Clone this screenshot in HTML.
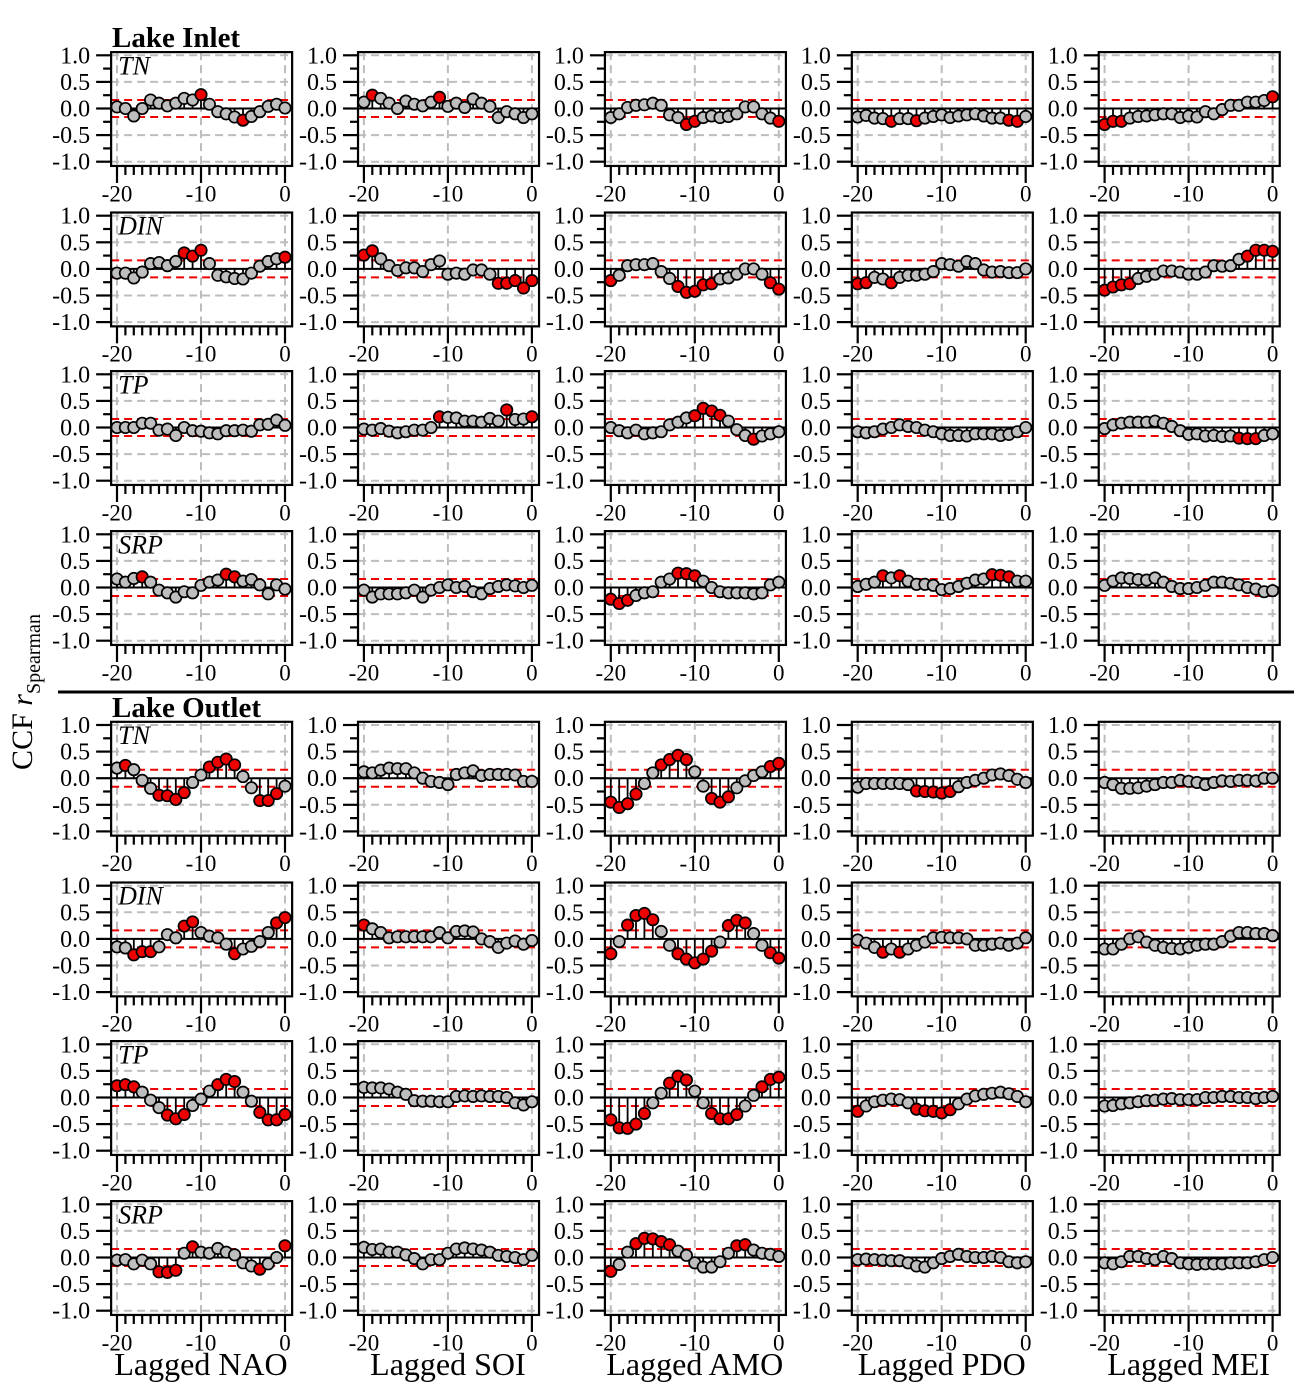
<!DOCTYPE html>
<html><head><meta charset="utf-8"><style>
html,body{margin:0;padding:0;background:#fff;}
svg{display:block;}
text{font-family:"Liberation Serif",serif;}
</style></head><body>
<svg id="chart" width="1300" height="1400" viewBox="0 0 1300 1400" xmlns="http://www.w3.org/2000/svg" font-family="Liberation Serif, serif">
<rect x="0" y="0" width="1300" height="1400" fill="#fff"/>
<text x="112" y="47" font-size="29" font-weight="bold" font-family="Liberation Serif, serif">Lake Inlet</text>
<text x="112" y="717" font-size="29" font-weight="bold" font-family="Liberation Serif, serif">Lake Outlet</text>
<line x1="58" y1="692" x2="1294" y2="692" stroke="#000" stroke-width="3"/>
<text transform="translate(32,692) rotate(-90)" text-anchor="middle" font-size="30" font-family="Liberation Serif, serif">CCF <tspan font-style="italic">r</tspan><tspan font-size="20" dy="8">Spearman</tspan></text>
<g id="panels"></g>
</svg>
<script>
const lags = [-20,-19,-18,-17,-16,-15,-14,-13,-12,-11,-10,-9,-8,-7,-6,-5,-4,-3,-2,-1,0];
const indices = ["NAO","SOI","AMO","PDO","MEI"];
const variables = ["TN","DIN","TP","SRP"];
const yTicks = [1.0,0.5,0.0,-0.5,-1.0];
const yTickLabels = ["1.0","0.5","0.0","-0.5","-1.0"];
const xTicks = [-20,-10,0];
const sigLevel = 0.16;

const inTN_NAO=[0.03,0,-0.14,0,0.16,0.1,0.05,0.1,0.19,0.16,0.26,0.08,-0.06,-0.1,-0.16,-0.22,-0.15,-0.06,0.04,0.08,0.01];
const inTN_SOI=[0.12,0.25,0.19,0.1,0,0.14,0.08,0.05,0.12,0.21,0.04,0.1,0.02,0.18,0.1,0.04,-0.17,-0.06,-0.1,-0.17,-0.1];
const inTN_AMO=[-0.17,-0.1,0.02,0.06,0.07,0.1,0.06,-0.12,-0.17,-0.3,-0.24,-0.17,-0.14,-0.17,-0.15,-0.1,0.03,0.03,-0.1,-0.18,-0.24];
const inTN_PDO=[-0.16,-0.13,-0.18,-0.19,-0.24,-0.19,-0.19,-0.23,-0.18,-0.15,-0.12,-0.17,-0.14,-0.12,-0.1,-0.14,-0.18,-0.18,-0.22,-0.24,-0.15];
const inTN_MEI=[-0.3,-0.24,-0.24,-0.18,-0.15,-0.14,-0.12,-0.1,-0.1,-0.17,-0.14,-0.16,-0.06,-0.1,-0.02,0.06,0.06,0.12,0.12,0.15,0.22];
const inDIN_NAO=[-0.08,-0.08,-0.17,-0.06,0.1,0.12,0.06,0.14,0.3,0.24,0.35,0.1,-0.12,-0.15,-0.18,-0.19,-0.08,0.05,0.14,0.19,0.22];
const inDIN_SOI=[0.26,0.34,0.19,0.06,-0.03,0.02,0.02,-0.05,0.08,0.15,-0.1,-0.08,-0.1,-0.02,-0.02,-0.1,-0.27,-0.27,-0.22,-0.36,-0.22];
const inDIN_AMO=[-0.22,-0.12,0.06,0.08,0.08,0.1,-0.05,-0.18,-0.33,-0.44,-0.42,-0.3,-0.28,-0.19,-0.17,-0.1,0,0,-0.1,-0.26,-0.38];
const inDIN_PDO=[-0.28,-0.26,-0.16,-0.19,-0.26,-0.16,-0.12,-0.12,-0.1,-0.05,0.1,0.08,0.05,0.14,0.1,-0.02,-0.06,-0.05,-0.07,-0.07,0];
const inDIN_MEI=[-0.4,-0.34,-0.3,-0.28,-0.18,-0.14,-0.1,-0.04,-0.04,-0.06,-0.1,-0.1,-0.06,0.06,0.05,0.06,0.18,0.24,0.35,0.35,0.33];
const inTP_NAO=[0,0,0,0.08,0.08,-0.05,-0.03,-0.15,0,-0.06,-0.07,-0.1,-0.12,-0.06,-0.06,-0.05,-0.07,0.05,0.06,0.14,0.04];
const inTP_SOI=[-0.03,-0.05,-0.02,-0.07,-0.1,-0.08,-0.05,-0.05,0,0.2,0.19,0.18,0.12,0.12,0.1,0.17,0.12,0.33,0.15,0.16,0.2];
const inTP_AMO=[0,-0.06,-0.1,-0.05,-0.12,-0.1,-0.08,0.05,0.1,0.18,0.22,0.36,0.31,0.23,0.12,-0.04,-0.15,-0.22,-0.16,-0.12,-0.08];
const inTP_PDO=[-0.08,-0.1,-0.08,-0.03,0,0.05,0.02,0,-0.05,-0.08,-0.12,-0.15,-0.15,-0.16,-0.12,-0.12,-0.12,-0.15,-0.13,-0.08,0];
const inTP_MEI=[-0.02,0.05,0.08,0.1,0.1,0.1,0.12,0.08,0.02,-0.06,-0.13,-0.12,-0.16,-0.15,-0.17,-0.16,-0.2,-0.21,-0.21,-0.15,-0.12];
const inSRP_NAO=[0.16,0.1,0.17,0.2,0.1,-0.05,-0.1,-0.18,-0.08,-0.1,0.04,0.1,0.14,0.25,0.2,0.12,0.15,0.05,-0.12,0.05,-0.03];
const inSRP_SOI=[-0.05,-0.18,-0.12,-0.12,-0.12,-0.1,-0.05,-0.18,-0.05,0,0.05,0,0.02,-0.08,-0.12,-0.02,0.02,0.05,0.03,0,0.04];
const inSRP_AMO=[-0.22,-0.3,-0.24,-0.15,-0.1,-0.08,0.1,0.16,0.27,0.26,0.22,0.12,0,-0.08,-0.1,-0.1,-0.1,-0.12,-0.1,0.05,0.1];
const inSRP_PDO=[0.02,0.06,0.1,0.22,0.18,0.22,0.12,0.06,0.06,0.04,-0.04,-0.02,0.02,0.08,0.14,0.16,0.24,0.23,0.2,0.12,0.12];
const inSRP_MEI=[0.04,0.12,0.18,0.17,0.15,0.14,0.18,0.1,0.02,-0.02,-0.02,0,0.04,0.1,0.1,0.08,0.05,0,-0.03,-0.08,-0.06];

const outTN_NAO=[0.19,0.24,0.16,-0.04,-0.19,-0.32,-0.33,-0.4,-0.27,-0.08,0.06,0.21,0.3,0.36,0.25,0.03,-0.18,-0.42,-0.42,-0.29,-0.15];
const outTN_SOI=[0.12,0.1,0.15,0.19,0.18,0.18,0.1,0,-0.06,-0.08,-0.12,0.07,0.1,0.14,0.05,0.07,0.07,0.07,0.06,-0.06,-0.06];
const outTN_AMO=[-0.45,-0.55,-0.48,-0.3,-0.1,0.1,0.25,0.35,0.43,0.35,0.12,-0.15,-0.38,-0.45,-0.35,-0.18,-0.05,0.05,0.12,0.22,0.28];
const outTN_PDO=[-0.17,-0.1,-0.1,-0.1,-0.1,-0.1,-0.12,-0.24,-0.25,-0.26,-0.28,-0.25,-0.16,-0.08,-0.04,0,0.06,0.08,0.05,-0.02,-0.08];
const outTN_MEI=[-0.08,-0.12,-0.19,-0.19,-0.18,-0.15,-0.12,-0.08,-0.08,-0.04,-0.06,-0.08,-0.12,-0.08,-0.05,-0.06,-0.04,-0.04,-0.05,0,0];
const outDIN_NAO=[-0.15,-0.17,-0.3,-0.24,-0.24,-0.15,0.08,0.02,0.24,0.32,0.12,0.05,0.02,-0.1,-0.28,-0.19,-0.14,-0.05,0.12,0.3,0.4];
const outDIN_SOI=[0.26,0.19,0.12,0.02,0.04,0.04,0.04,0.04,0.04,0.12,0.02,0.14,0.15,0.13,0,-0.05,-0.16,-0.08,-0.04,-0.1,-0.03];
const outDIN_AMO=[-0.28,-0.05,0.26,0.44,0.48,0.36,0.14,-0.12,-0.28,-0.38,-0.45,-0.38,-0.23,-0.06,0.25,0.35,0.3,0.1,-0.12,-0.26,-0.36];
const outDIN_PDO=[-0.02,-0.08,-0.16,-0.25,-0.19,-0.25,-0.19,-0.12,-0.06,0.02,0.03,0.02,0.02,0,-0.12,-0.12,-0.1,-0.08,-0.12,-0.08,0.02];
const outDIN_MEI=[-0.19,-0.19,-0.1,0,0.04,-0.06,-0.12,-0.16,-0.18,-0.19,-0.16,-0.12,-0.1,-0.1,-0.05,0.05,0.12,0.12,0.1,0.1,0.06];
const outTP_NAO=[0.22,0.24,0.2,0.1,-0.05,-0.19,-0.33,-0.4,-0.32,-0.15,-0.03,0.12,0.24,0.34,0.3,0.1,-0.07,-0.28,-0.42,-0.42,-0.32];
const outTP_SOI=[0.19,0.18,0.18,0.16,0.1,0.06,-0.06,-0.07,-0.07,-0.08,-0.08,0.02,0.03,0.02,0.03,0.02,0.02,0,-0.1,-0.14,-0.08];
const outTP_AMO=[-0.42,-0.57,-0.58,-0.5,-0.3,-0.1,0.08,0.27,0.4,0.33,0.12,-0.1,-0.3,-0.4,-0.4,-0.32,-0.16,0.04,0.2,0.34,0.38];
const outTP_PDO=[-0.26,-0.16,-0.08,-0.05,-0.03,-0.04,-0.1,-0.22,-0.25,-0.26,-0.29,-0.23,-0.12,-0.03,0.03,0.06,0.08,0.1,0.07,0.02,-0.08];
const outTP_MEI=[-0.16,-0.15,-0.12,-0.1,-0.08,-0.06,-0.05,-0.03,-0.02,-0.04,-0.04,-0.04,0,0,0.02,0.02,0,0,-0.02,0,0.02];
const outSRP_NAO=[-0.05,-0.04,-0.12,-0.05,-0.12,-0.27,-0.28,-0.24,0.08,0.2,0.1,0.08,0.17,0.1,0.05,-0.1,-0.16,-0.22,-0.12,0,0.22];
const outSRP_SOI=[0.19,0.15,0.16,0.1,0.1,0.05,-0.02,-0.12,-0.04,-0.04,0.08,0.16,0.18,0.16,0.14,0.1,0.04,0.02,0,-0.04,0.04];
const outSRP_AMO=[-0.26,-0.13,0.1,0.26,0.36,0.35,0.3,0.24,0.12,0.04,-0.1,-0.18,-0.18,-0.08,0.08,0.22,0.24,0.14,0.08,0.06,0.02];
const outSRP_PDO=[-0.04,-0.03,-0.04,-0.05,-0.06,-0.06,-0.1,-0.16,-0.18,-0.1,-0.02,0.02,0.06,0.02,0,0,0.02,0,-0.08,-0.1,-0.08];
const outSRP_MEI=[-0.1,-0.12,-0.08,0.02,0.02,-0.02,-0.04,0.02,-0.02,-0.1,-0.12,-0.13,-0.12,-0.12,-0.12,-0.1,-0.1,-0.1,-0.08,-0.04,0];

const inletSeries=[[inTN_NAO,inTN_SOI,inTN_AMO,inTN_PDO,inTN_MEI],[inDIN_NAO,inDIN_SOI,inDIN_AMO,inDIN_PDO,inDIN_MEI],[inTP_NAO,inTP_SOI,inTP_AMO,inTP_PDO,inTP_MEI],[inSRP_NAO,inSRP_SOI,inSRP_AMO,inSRP_PDO,inSRP_MEI]];
const outletSeries=[[outTN_NAO,outTN_SOI,outTN_AMO,outTN_PDO,outTN_MEI],[outDIN_NAO,outDIN_SOI,outDIN_AMO,outDIN_PDO,outDIN_MEI],[outTP_NAO,outTP_SOI,outTP_AMO,outTP_PDO,outTP_MEI],[outSRP_NAO,outSRP_SOI,outSRP_AMO,outSRP_PDO,outSRP_MEI]];

const NS="http://www.w3.org/2000/svg";
const root=document.getElementById("panels");
const SERIF="Liberation Serif, serif";
function mk(tag,attrs,parent){const e=document.createElementNS(NS,tag);for(const k in attrs)e.setAttribute(k,attrs[k]);parent.appendChild(e);return e;}
const groupTop=[[55.3,215.7,374.3,534.3],[725,885.7,1044.3,1204.3]];
const colStep=246.9, pxLag=8.4, pxUnit=53.2, redThresh=0.195;

function drawPanel(gi,ri,ci,vals){
  const y1=groupTop[gi][ri];
  const x0=117+colStep*ci;
  const xs=l=>x0+(l+20)*pxLag;
  const ys=v=>y1+(1-v)*pxUnit;
  const g=mk("g",{},root);
  
  
  const L=xs(-20.7),R=xs(0.85),T=ys(1.06),B=ys(-1.08);
  yTicks.forEach(v=>{ if(v!==0){const ln=mk("line",{x1:L,x2:R,y1:ys(v),y2:ys(v),stroke:"#bdbdbd","stroke-width":2,"stroke-dasharray":"8,5"},g);
    
    }});
  xTicks.forEach(l=>{const ln=mk("line",{x1:xs(l),x2:xs(l),y1:T,y2:B,stroke:"#bdbdbd","stroke-width":2,"stroke-dasharray":"8,5"},g);
    
    });
  [sigLevel,-sigLevel].forEach(v=>{const ln=mk("line",{x1:L,x2:R,y1:ys(v),y2:ys(v),stroke:"#ee0000","stroke-width":2,"stroke-dasharray":"8,5"},g);
    
    });
  const zl=mk("line",{x1:L,x2:R,y1:ys(0),y2:ys(0),stroke:"#000","stroke-width":2},g);
  
  
  lags.forEach((l,i)=>{const s=mk("line",{x1:xs(l),x2:xs(l),y1:ys(0),y2:ys(vals[i]),stroke:"#000","stroke-width":1.8},g);
    
    });
  lags.forEach((l,i)=>{const v=vals[i];const c=mk("circle",{cx:xs(l),cy:ys(v),r:5.7,fill:Math.abs(v)>redThresh?"#ee0000":"#bebebe",stroke:"#000","stroke-width":1.7},g);
    
    });
  const bx=mk("rect",{x:L,y:T,width:R-L,height:B-T,fill:"none",stroke:"#000","stroke-width":2.2},g);
  
  
  yTicks.forEach((v,k)=>{mk("line",{x1:L-15,x2:L,y1:ys(v),y2:ys(v),stroke:"#000","stroke-width":2.2},g);
    const t=mk("text",{x:L-21,y:ys(v)+8,"text-anchor":"end","font-size":24,"font-family":SERIF},g);t.textContent=yTickLabels[k];
    
    });
  [0.75,0.25,-0.25,-0.75].forEach(v=>mk("line",{x1:L-8,x2:L,y1:ys(v),y2:ys(v),stroke:"#000","stroke-width":2.2},g));
  lags.forEach(l=>{const major=xTicks.includes(l);mk("line",{x1:xs(l),x2:xs(l),y1:B,y2:B+(major?17:9),stroke:"#000","stroke-width":2.2},g);});
  xTicks.forEach(l=>{const t=mk("text",{x:xs(l),y:y1+146,"text-anchor":"middle","font-size":23,"font-family":SERIF},g);t.textContent=String(l);
    
    });
  if(ci===0){const t=mk("text",{x:L+7,y:y1+19,"font-size":26,"font-style":"italic","font-family":SERIF},g);t.textContent=variables[ri];
    
    }
}
[inletSeries,outletSeries].forEach((grp,gi)=>grp.forEach((row,ri)=>row.forEach((vals,ci)=>drawPanel(gi,ri,ci,vals))));
indices.forEach((nm,ci)=>{const t=mk("text",{x:201+colStep*ci,y:1375,"text-anchor":"middle","font-size":32,"font-family":"Liberation Sans, sans-serif"},root);t.textContent="Lagged "+nm;
  
  });
</script>
</body></html>
